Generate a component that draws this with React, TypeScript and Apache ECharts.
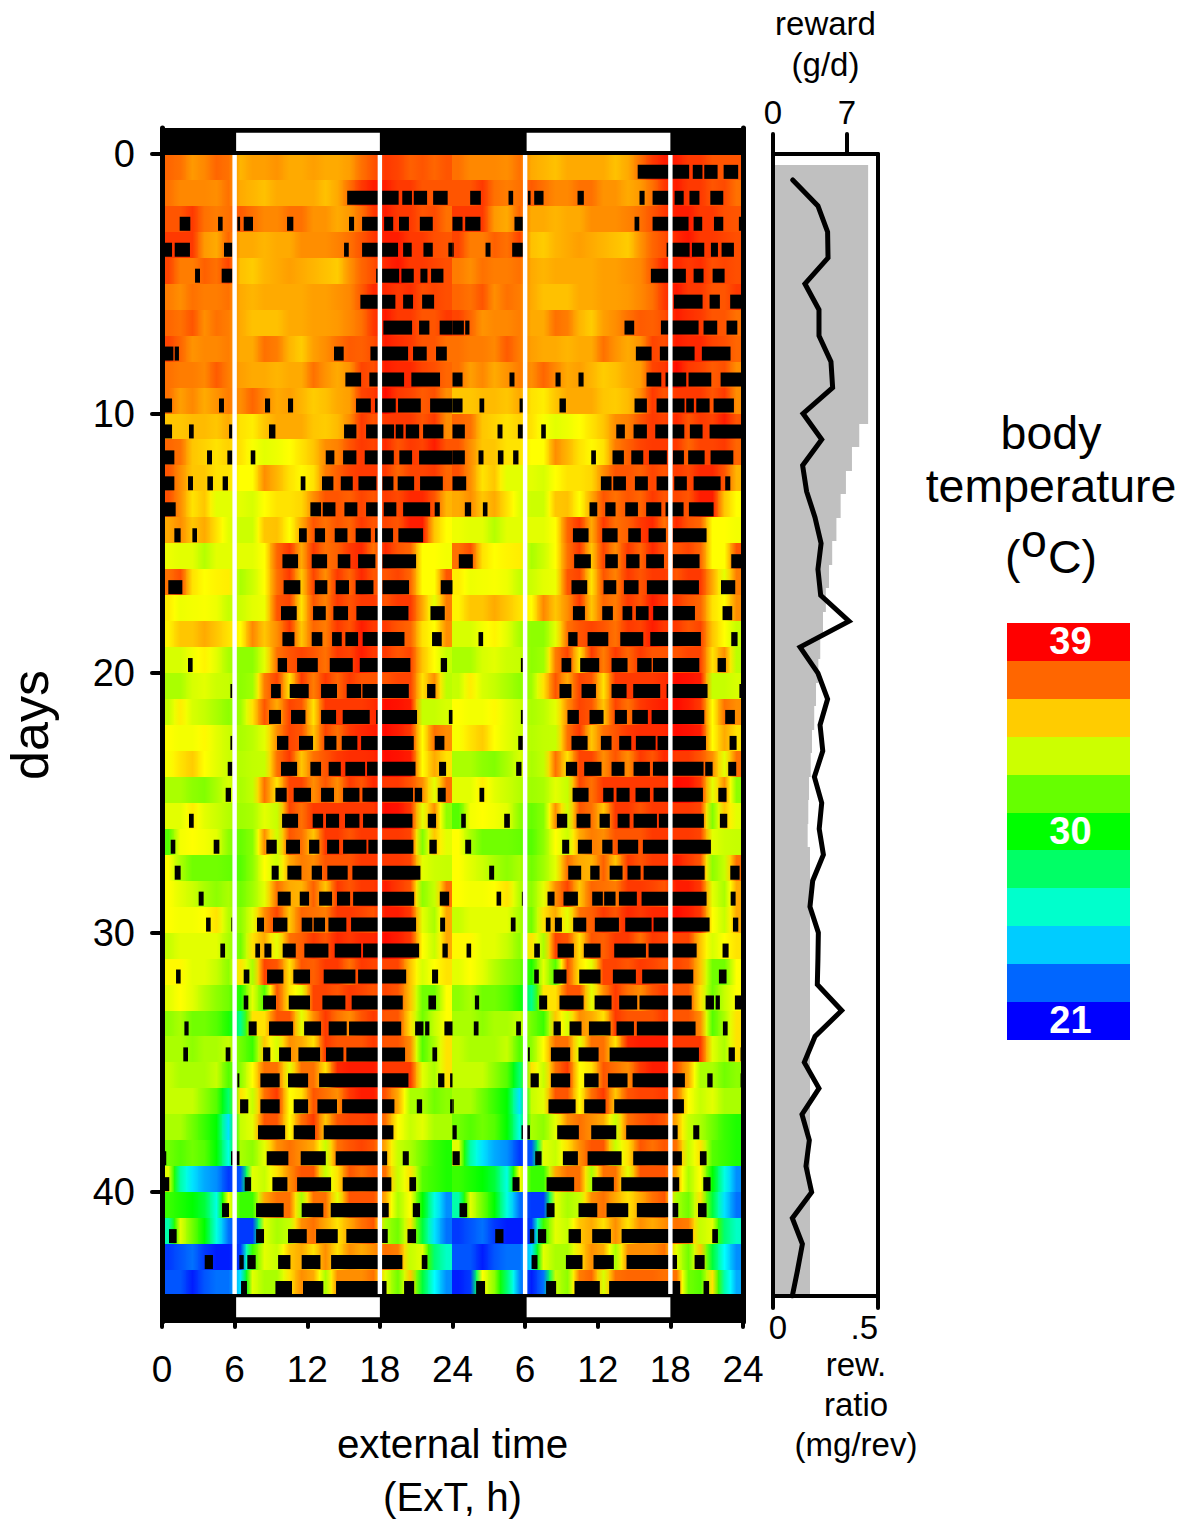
import React, { useEffect, useRef } from "react";
import * as echarts from "echarts";

const FONT = "'Liberation Sans', Arial, sans-serif";

// hourly body temperature (deg C), one list per day, hour 0..23
const tempByDay: number[][] = [
  [37.2,37,36.3,36.6,37.2,37,35.8,36.2,36.2,36.4,36,36,36.2,36,36,36.2,37,37.5,38,37.8,37.3,37.5,37.2,37.5],
  [37,36.6,36.6,36.6,36.5,37,36,35.8,35.6,36,36,36,36,35.6,36,37,38,38.5,38.5,38,38,37.5,37.5,37.5],
  [37.5,37.5,38,37,36.8,37,37.4,37,36.6,36.6,37,37,36.4,36.4,36,36.3,37,38,38.5,38,38,37.5,37.7,37],
  [38,38,38,36.3,36,37.2,36,36,35.8,36,36,36.5,36.5,36.5,36.7,37,37.5,38,38.5,38.5,38,38,37.6,37.5],
  [37.8,36.8,36.8,37.3,37,37.8,35.6,35.4,35.8,36,36.2,36,35.8,35.6,35.4,36.4,37.2,37.6,38.3,38.6,38,38,37.8,37.6],
  [36.8,36.5,37,36.8,36.8,37,36,35.8,36,36,36,36,36.2,36.2,36.4,36.6,37.4,38.3,38.3,38,38.2,37.6,37.8,37.6],
  [37.2,37,37.5,36.5,37,36.8,36,35.6,35.6,35.6,36,36,36.2,36.2,36.3,36.6,37,38,38.6,38,38,37.5,37.5,38],
  [37.8,37.2,36.4,36.6,36.6,36.8,36,36,37,36.8,35.8,35.4,36.2,36.5,37,37.4,37.3,37.6,38.5,38.2,38,37.5,37.5,37],
  [37,36.8,36.8,36.6,37.4,36.8,36.2,36,36,35.8,36,36,37,36.4,36,36.4,37.8,37.6,38.5,38.3,38.3,37.8,37.6,37.2],
  [37,36.2,36.6,36,36.4,36.8,36.5,37.2,36.6,36,36.2,35.8,35.4,35.6,36,36.2,37.8,38,38.8,38,37.8,37.4,37.6,36.5],
  [35.5,35.5,35.7,35.7,35.5,36,35,34.8,35.5,36,36,36,35.5,35.4,35.7,36.5,38,37.5,38,38,38,37.5,38,36.5],
  [37.2,37,35.5,35.3,35,35.3,35,34.4,34,34.2,34.5,35,35.5,36.5,36.7,37.5,38,37.8,38.3,37.5,38,37.8,38.5,37.5],
  [37.5,36.5,35.5,35.5,35,35,34.5,34.5,36.5,35.8,35,34.6,35,36.8,37.3,37.8,38,38,38,37.2,37.8,37.8,38,37.2],
  [37.6,36.5,35,35.5,34,34,34,33.8,34.5,35,35,35.2,36.5,37.5,37.5,37.3,37.8,37.5,38,37.7,38.3,38.3,37.5,35.8],
  [36,36.5,35.5,36,35,34,33.6,33.6,35.5,35.6,34.5,36,37.5,37,37.5,37.2,38,37.5,37.8,37.5,38.5,38.5,35.5,34.5],
  [34.2,34,34,33.2,34,34,34,34,34.5,37.2,38,36,38,37,37.3,38,38.3,37,38.3,37.5,37.2,34.5,34.5,34.3],
  [37,37.6,35,34.5,34.7,34.8,33,33.6,34.5,37,38,35.5,37.8,36.5,38,37.2,38.3,37.5,37.5,37.8,37.2,34.5,34.5,37.5],
  [34.8,34.2,34.3,34.4,34.2,33.5,33.6,34,34.2,37.5,37.8,35,37.5,36.7,38,37.5,38,38,37.5,38,38,36,34,36.8],
  [34.7,35.5,35.5,36,35.5,35,34.5,36.6,35.5,36.5,38,35.5,37.2,36.8,38,37.5,38.5,38,38,37.5,37.2,35,34.5,36.5],
  [33.8,33.8,34.3,34.7,34,33,32.5,32.5,34,37,37.5,37.8,37.5,37,38,37.8,38.5,38,38,37.5,37.8,35.5,34.5,33.5],
  [33,33,33.8,34,33.6,33.5,32.5,32.8,36.8,37.8,35,38,36.8,38,37.2,38,37.5,37.5,37.5,37.8,37.8,35,36.5,33.3],
  [33.5,34.8,33.8,33.5,33,32.5,32.8,35,37.5,36,37.8,37.5,35,38,38,38,38,38.2,38.8,38.7,38.5,33.5,33.5,33.8],
  [34.5,34.3,34.3,34.6,34,33.6,33,33.3,34,36.5,37.8,37.5,35.5,37.8,37,38,38.3,38.5,38.8,38.5,38,34.5,37,36.5],
  [34.4,35,35.4,34.5,34,33.6,33.2,33.4,33.5,37,38,35.5,37,37.5,38,38.2,38.2,38.3,38.8,38.7,38.5,34.5,36,35],
  [33,33,32.5,32.3,33,33.8,33,33.4,37,35,37.8,37.8,36.5,37.5,36.5,38,37.5,38.3,38,38,37.5,36.5,34,37],
  [34,34,34.8,34,33.6,33.2,32.8,33,34,33.5,37.8,37,38,38,38,38,38,38,38.8,38.7,38,34,36.5,32.5],
  [31.5,34.3,34.5,34.3,34,32.5,31.8,32.4,36.5,33.6,37.5,37,35.5,38,38,37.5,38,38,38,38,37.8,32.3,35.5,34],
  [34.5,33,32,32,32,31.8,31.5,32.5,34.5,33.6,36,36.8,36.5,37.5,37.5,37.5,38,38,38,38,37.8,34,33.6,33.5],
  [34.5,34,33.6,33,32.5,33,32,32.8,34,37,36,35.8,37.3,35.5,38,37.5,38,38,38.5,38,37.5,32.5,33.5,37],
  [34.5,34.3,34.3,34.5,35,33.2,32.5,34,36.5,37.8,35.5,37.2,37,36.8,38,38,37.8,37.5,38.5,38.5,38,34,33,36],
  [33.5,34,34,34,34,33,32,35,36,34,37,37.3,38,37.5,38.3,38,38.3,38.3,38.8,38.5,38,34.5,33.5,36],
  [34.6,34.6,34,34,33.5,32.5,35,33,37.8,37.5,35,37.5,37.3,38,38,37,38,37.8,37.8,37.8,35.5,33.8,34.5,35],
  [34,34.5,34,33.2,32.5,32,30.5,34,31.5,37.5,35,34,37.8,37.8,37.5,38,37.8,37.5,37.8,37.5,35.5,32,32,34.5],
  [32.5,33,32,32,31.5,30.5,27.5,35,35,37.5,37.5,34,36.5,38,37,36.5,37.5,38,37.5,37.5,35,32,33.5,34.5],
  [33,33,32.5,33,33,33.5,32,31,35.5,33.8,36.5,36,35,38,37.5,37.5,37.5,38,37.5,37.5,36.5,31.5,33,35],
  [33.5,33,33,33,33.5,31.5,32.5,34.5,37,37,34,37,37,35,38.3,38.5,38.5,38.5,38,38,38,34,33,35],
  [33.5,33.5,33.5,32.5,31.5,28,35,33.5,37,38,34.5,35,37.5,37,36.5,38,38.5,38.5,37.5,36,33,33,32,32.5],
  [33,33,32,31,30,25,33.5,34,37.5,37.5,34.5,37,38,35.5,37.5,37.8,37.8,38,37,34.5,33.5,34,33,33],
  [32,31.5,32,31.5,30,26,33,32.5,34,36.5,37,36.5,36,33.5,37,37.5,37.8,37.5,36,33.5,33,32,31,30.5],
  [34,27,25,24,23.5,22,22.5,34,33.5,35,36.5,37.5,37.5,33.5,35,37.5,37,37.5,37,33.5,35,31.5,31,30.5],
  [31,30.5,30,29,26,34.5,31,31,36,37,37,33,37,37,34,37.5,37.5,37.5,36,33,34.5,30,26,23.5],
  [27,34,32,30,26,23,22,22,34,33,33.5,36.5,37,36,35,36,37,37.5,33,32,35,29,25,23],
  [22,22.5,23,22,21.5,21.5,22,31,34,33.5,35.5,36,35,36.5,35,36.5,36,36.5,37,36.8,33.5,34,28,26.5],
  [22.5,22.5,21.5,22.5,23,23,25,34,33,33,35,36.5,36,33,36.5,36.5,36.5,37,34,32,35.5,29,25.5,23.5],
  [21.5,22,34.5,32.5,28,23.5,21.5,23,33.5,32.5,36.8,37.2,33.8,37,37.2,37.2,37.2,37,37,32,31.5,35,27,24],
];

// feeding bouts per day: [start hour, end hour]
const barsByDay: number[][][] = [
  [],
  [[15.3,19.55],[19.85,20.65],[20.8,21.9],[22.4,23.6]],
  [[1.46,2.34],[4.63,5.01],[6.23,6.45],[6.75,7.52],[10.33,10.85],[15.45,15.87],[16.53,17.9],[18.35,19.1],[19.58,20.4],[21.3,22.37]],
  [[0,0.83],[1.05,2.31],[5.12,5.81],[15.04,15.43],[16.53,19.5],[19.92,20.63],[21.6,22.37],[23.66,24]],
  [[0,0.1],[2.73,3.14],[4.93,5.81],[17.69,19.59],[19.78,20.8],[21.35,21.93],[22.23,23.25]],
  [[16.39,19.28],[19.92,20.74],[21.49,22.48]],
  [[18.29,20.66],[21.24,22.09],[22.94,24]],
  [[0,0.94],[1.05,1.4],[14.21,15.01],[17.22,20.33],[20.74,21.87],[22.64,23.53]],
  [[15.15,16.45],[17.13,20.0],[20.6,22.97]],
  [[0,0.83],[4.71,5.12],[8.51,8.93],[10.41,10.83],[16.03,17.25],[17.6,19.31],[19.5,21.38],[22.15,24]],
  [[0,0.83],[2.23,2.62],[5.54,5.81],[8.84,9.37],[15.04,16.06],[16.86,19.17],[19.31,19.94],[20.14,21.24],[21.57,23.25]],
  [[0,1.02],[3.72,4.13],[5.4,5.81],[7.33,7.71],[13.53,14.24],[14.96,16.06],[16.75,19.15],[19.61,20.66],[21.24,24]],
  [[0,1.02],[2.15,2.56],[3.75,4.21],[5.01,5.45],[11.46,11.85],[13.22,14.16],[14.77,15.76],[16.23,17.71],[18.21,19.12],[19.47,20.83],[21.32,23.2]],
  [[0,1.13],[12.26,13.14],[13.28,14.33],[15.07,16.14],[16.86,17.95],[18.32,19.36],[19.92,22.15],[22.53,22.95]],
  [[1.02,1.54],[2.51,2.89],[11.32,11.96],[12.62,13.47],[14.27,15.32],[16.0,17.25],[17.6,19.09],[19.53,21.57]],
  [[9.95,11.24],[12.37,13.64],[14.52,15.56],[16.2,17.63],[18.21,20.99]],
  [[0.52,1.68],[10.05,11.43],[12.62,13.66],[14.35,15.45],[16.0,17.47],[18.21,20.41],[23.03,24]],
  [[9.83,11.13],[12.48,13.53],[14.16,15.37],[16.06,20.36],[22.18,23.36]],
  [[9.95,10.94],[12.37,13.25],[14.05,14.85],[15.15,16.2],[16.58,20.03],[22.31,23.11]],
  [[2.15,2.53],[9.56,10.33],[11.16,12.87],[13.86,15.76],[16.34,20.52],[23.03,23.55]],
  [[5.65,5.81],[9.01,9.81],[10.55,12.12],[13.14,14.46],[15.26,16.45],[16.56,20.39],[21.9,22.59]],
  [[8.84,9.83],[10.66,11.85],[13.14,14.38],[14.93,17.16],[17.69,21.07],[23.7,24]],
  [[5.65,5.81],[9.5,10.44],[11.32,12.48],[13.41,14.41],[14.85,16.14],[16.45,20.8],[22.53,23.33]],
  [[5.43,5.81],[9.83,11.16],[12.26,13.14],[13.77,14.77],[15.15,16.78],[16.94,20.94],[22.89,23.47]],
  [[5.26,5.7],[9.37,10.3],[10.88,12.31],[13.14,14.21],[14.96,16.31],[16.56,20.74],[20.88,21.49],[22.78,23.44]],
  [[2.23,2.62],[9.92,11.24],[12.45,13.31],[13.55,14.63],[15.12,16.31],[16.61,20.69],[21.96,22.64]],
  [[0.72,1.1],[4.27,4.74],[8.62,9.48],[10.25,11.4],[12.15,13.0],[13.64,14.63],[14.96,16.89],[17.05,20.77],[22.09,22.7]],
  [[1.05,1.54],[9.06,9.64],[10.36,11.52],[12.37,13.22],[13.66,15.34],[15.73,21.35]],
  [[3.03,3.44],[9.56,10.63],[11.38,12.15],[12.98,14.05],[14.46,15.54],[15.79,20.83],[22.95,23.72]],
  [[3.64,4.02],[5.73,5.81],[7.85,8.43],[9.17,10.36],[11.54,12.42],[12.53,13.47],[13.75,15.23],[15.62,20.99],[22.98,23.39]],
  [[4.82,5.21],[7.71,8.1],[8.46,9.04],[9.97,11.05],[11.76,13.75],[14.27,16.45],[16.61,21.24],[23.17,23.61]],
  [[1.16,1.54],[6.75,7.22],[8.68,10.03],[10.85,12.23],[13.36,15.98],[16.2,20.17],[22.31,22.81]],
  [[6.75,7.13],[8.35,9.42],[10.47,12.23],[13.25,15.15],[15.67,19.89],[22.01,22.64]],
  [[1.85,2.2],[7.16,7.82],[8.84,10.83],[11.74,13.14],[13.77,15.26],[15.45,19.76],[20.91,21.6],[21.74,22.09],[23.33,24]],
  [[1.76,2.15],[5.26,5.65],[8.35,8.95],[9.67,10.66],[11.27,13.06],[13.55,14.99],[15.23,20.08],[22.34,22.73]],
  [[6.23,6.39],[8.13,9.72],[10.41,12.07],[12.98,20.36],[22.81,23.33],[23.8,24]],
  [[6.45,7.13],[8.13,9.72],[10.88,12.07],[12.84,14.46],[14.88,19.2],[21.05,21.49],[23.8,24]],
  [[0,0.1],[7.93,10.17],[10.88,12.64],[13.36,19.12]],
  [[0,0.35],[5.7,6.4],[8.65,10.44],[11.46,13.53],[14.35,18.6],[19.89,20.39]],
  [[0,0.6],[6.83,7.36],[9.12,10.36],[11.16,13.97],[14.93,18.95],[20.44,20.99]],
  [[4.96,5.54],[7.77,10.05],[11.54,13.33],[13.94,18.73],[20.72,21.32]],
  [[0.58,1.21],[7.77,8.43],[10.41,11.96],[12.73,14.52],[15.23,18.65],[20.28,20.99]],
  [[3.53,4.21],[6.39,6.75],[7.05,7.74],[9.59,10.61],[11.54,13.09],[13.97,19.86],[21.46,21.93]],
  [[6.53,7.02],[9.37,10.74],[11.65,13.33],[14.38,18.55],[20.0,20.83]],
  [[1.95,2.69],[7.73,8.56],[10.08,12.17],[12.94,18.81],[20.74,21.2]],
];

// reward ratio (mg/rev), days 1..44
const rewardRatio = [
  .094,.214,.26,.262,.152,.219,.219,.276,.284,.143,.232,.141,.16,.2,.229,.214,.227,.362,.129,.214,.26,.224,
  .237,.197,.232,.22,.24,.189,.176,.216,.214,.211,.327,.2,.149,.219,.138,.173,.157,.184,.092,.14,.117,.092,
];

// reward (g/d), 48 equal steps from the top of the panel
const rewardGrams = [
  9,9,9,9,9,9,9,9,9,9,9,8.16,7.47,6.9,6.4,6,5.6,5.3,5,4.73,4.47,4.29,4.07,3.9,3.69,3.57,3.41,3.34,3.28,
  3.5,3.5,3.5,3.5,3.5,3.5,3.5,3.5,3.5,3.5,3.5,3.5,3.5,3.5,3.5,3.5,3.5,3.5,3.5,
];

const xTickValues = [0, 6, 12, 18, 24, 30, 36, 42, 48];
const xTickLabels = ["0", "6", "12", "18", "24", "6", "12", "18", "24"];
const dayTicks = [0, 10, 20, 30, 40];
const lightPeriods = [[6, 18], [30, 42]];
const lightEdges = [6, 18, 30, 42];
const legendColors = ["#FF0000","#FF6600","#FFCC00","#CCFF00","#66FF00","#00FF00","#00FF66","#00FFCC","#00CCFF","#0066FF","#0000FF"];
const legendLabels = ["39","","","","","30","","","","","21"];

const NODES: [number, number[]][] = [
  [21, [0, 0, 255]], [25.5, [0, 255, 255]], [30, [0, 255, 0]], [34.5, [255, 255, 0]], [39, [255, 0, 0]],
];
function colorOf(t: number): string {
  const v = Math.max(21, Math.min(39, t));
  for (let i = 0; i < NODES.length - 1; i++) {
    const [a, ca] = NODES[i];
    const [b, cb] = NODES[i + 1];
    if (v <= b) {
      const f = (v - a) / (b - a);
      const c = ca.map((x, k) => Math.round(x + (cb[k] - x) * f));
      return `rgb(${c[0]},${c[1]},${c[2]})`;
    }
  }
  return "rgb(255,0,0)";
}

const heatData: number[][] = [];
for (let row = 0; row < 44; row++) {
  [row, row + 1].forEach((day, half) => {
    const t = tempByDay[day];
    t.forEach((v, h) => {
      const prev = h > 0 ? t[h - 1] : v;
      const next = h < 23 ? t[h + 1] : v;
      heatData.push([half * 24 + h, row, (prev + v) / 2, v, (v + next) / 2]);
    });
  });
}

// each bout is drawn twice: on its own row (left half) and one row up (right half)
const barRows: number[][] = [];
barsByDay.forEach((bars, day) => {
  bars.forEach(([s, e]) => {
    barRows.push([s, e, day]);
    if (day >= 1) barRows.push([s + 24, e + 24, day - 1]);
  });
});

const rewardData = rewardGrams.map((v, i) => [i, v]);
const ratioData = rewardRatio.map((v, i) => [v, i + 1]);

const axisBase = { splitLine: { show: false }, z: 5 };
const tickStyle = { color: "#000", width: 4, cap: "round" };
const gridBase = { outerBoundsMode: "none", containLabel: false };
const lineOf = (width: number) => ({ show: true, onZero: false, lineStyle: { color: "#000", width } });

const option: any = {
  animation: false,
  backgroundColor: "#fff",
  grid: [
    { ...gridBase, left: 162, top: 128, width: 581, height: 1194 },
    { ...gridBase, left: 773, top: 154, width: 105, height: 1142 },
    { ...gridBase, left: 1007, top: 623, width: 123, height: 417 },
  ],
  xAxis: [
    {
      ...axisBase, type: "value", gridIndex: 0, min: 0, max: 48, position: "bottom",
      axisLine: lineOf(2),
      axisTick: { show: true, length: 5, customValues: xTickValues, lineStyle: tickStyle },
      axisLabel: {
        customValues: xTickValues, margin: 29, color: "#000", fontFamily: FONT, fontSize: 37,
        formatter: (v: number) => xTickLabels[xTickValues.indexOf(v)],
      },
      name: "external time\n(ExT, h)", nameLocation: "middle", nameGap: 95,
      nameTextStyle: { color: "#000", fontFamily: FONT, fontSize: 40.4, lineHeight: 53 },
    },
    {
      ...axisBase, type: "value", gridIndex: 1, min: 0, max: 105 / 10.57, position: "top",
      axisLine: lineOf(4),
      axisTick: { show: true, length: 20, customValues: [0, 7], lineStyle: tickStyle },
      axisLabel: { customValues: [0, 7], margin: 25, color: "#000", fontFamily: FONT, fontSize: 33 },
      name: "reward\n(g/d)", nameLocation: "middle", nameGap: 69,
      nameTextStyle: { color: "#000", fontFamily: FONT, fontSize: 33, lineHeight: 41 },
    },
    {
      ...axisBase, type: "value", gridIndex: 1, min: 0, max: 0.5, position: "bottom",
      axisLine: lineOf(4),
      axisTick: { show: true, length: 12, customValues: [0, 0.5], lineStyle: tickStyle },
      axisLabel: {
        customValues: [0, 0.5], margin: 15, color: "#000", fontFamily: FONT, fontSize: 33,
        alignMinLabel: "center", alignMaxLabel: "right", padding: [0, 0, 0, 10],
        formatter: (v: number) => (v === 0 ? "0" : ".5"),
      },
    },
    { type: "value", gridIndex: 2, min: 0, max: 1, show: false },
  ],
  yAxis: [
    {
      ...axisBase, type: "value", gridIndex: 0, min: -1, max: 45, inverse: true, position: "left",
      axisLine: lineOf(5),
      axisTick: { show: true, length: 10, customValues: dayTicks, lineStyle: tickStyle },
      axisLabel: { customValues: dayTicks, margin: 27, color: "#000", fontFamily: FONT, fontSize: 38 },
      name: "days", nameLocation: "middle", nameGap: 106, nameRotate: 90,
      nameTextStyle: { color: "#000", fontFamily: FONT, fontSize: 52 },
    },
    {
      ...axisBase, type: "value", gridIndex: 0, min: -1, max: 45, inverse: true, position: "right",
      axisLine: lineOf(5), axisTick: { show: false }, axisLabel: { show: false },
    },
    {
      ...axisBase, type: "value", gridIndex: 1, min: 0, max: 44, inverse: true, position: "left",
      axisLine: lineOf(4), axisTick: { show: false }, axisLabel: { show: false },
    },
    {
      ...axisBase, type: "value", gridIndex: 1, min: 0, max: 44, inverse: true, position: "right",
      axisLine: lineOf(4), axisTick: { show: false }, axisLabel: { show: false },
    },
    { type: "value", gridIndex: 2, min: 0, max: 11, inverse: true, show: false },
  ],
  graphic: [
    { type: "text", x: 856, y: 1364, style: { text: "rew.", font: `33px ${FONT}`, fill: "#000", align: "center", verticalAlign: "middle" } },
    { type: "text", x: 856, y: 1404, style: { text: "ratio", font: `33px ${FONT}`, fill: "#000", align: "center", verticalAlign: "middle" } },
    { type: "text", x: 856, y: 1444, style: { text: "(mg/rev)", font: `33px ${FONT}`, fill: "#000", align: "center", verticalAlign: "middle" } },
    { type: "text", x: 1051, y: 433, style: { text: "body", font: `46.5px ${FONT}`, fill: "#000", align: "center", verticalAlign: "middle" } },
    { type: "text", x: 1051, y: 486, style: { text: "temperature", font: `46.5px ${FONT}`, fill: "#000", align: "center", verticalAlign: "middle" } },
    { type: "text", x: 1005, y: 557, style: { text: "(", font: `46.5px ${FONT}`, fill: "#000", align: "left", verticalAlign: "middle" } },
    { type: "text", x: 1021, y: 541, style: { text: "o", font: `46.5px ${FONT}`, fill: "#000", align: "left", verticalAlign: "middle" } },
    { type: "text", x: 1048, y: 557, style: { text: "C)", font: `46.5px ${FONT}`, fill: "#000", align: "left", verticalAlign: "middle" } },
  ],
  series: [
    {
      type: "custom", xAxisIndex: 0, yAxisIndex: 0, clip: true, data: heatData,
      renderItem: (_p: any, api: any) => {
        const x = api.value(0), r = api.value(1);
        const a = api.coord([x, r]);
        const b = api.coord([x + 1, r + 1]);
        const x0 = Math.floor(a[0]), y0 = Math.round(a[1]);
        return {
          type: "rect",
          shape: { x: x0, y: y0, width: Math.ceil(b[0]) - x0, height: Math.round(b[1]) - y0 },
          style: {
            fill: new echarts.graphic.LinearGradient(0, 0, 1, 0, [
              { offset: 0, color: colorOf(api.value(2)) },
              { offset: 0.5, color: colorOf(api.value(3)) },
              { offset: 1, color: colorOf(api.value(4)) },
            ]),
          },
        };
      },
    },
    {
      type: "custom", xAxisIndex: 0, yAxisIndex: 0, clip: true, data: barRows,
      renderItem: (_p: any, api: any) => {
        const a = api.coord([api.value(0), api.value(2) + 0.42]);
        const b = api.coord([api.value(1), api.value(2) + 0.96]);
        return { type: "rect", shape: { x: a[0], y: a[1], width: b[0] - a[0], height: b[1] - a[1] }, style: { fill: "#000" } };
      },
    },
    {
      type: "custom", xAxisIndex: 0, yAxisIndex: 0, data: lightEdges.map((v) => [v]),
      renderItem: (_p: any, api: any) => {
        const a = api.coord([api.value(0), 0]);
        const b = api.coord([api.value(0), 44]);
        return { type: "rect", shape: { x: a[0] - 2.2, y: a[1], width: 4.4, height: b[1] - a[1] }, style: { fill: "#fff" } };
      },
    },
    {
      type: "custom", xAxisIndex: 0, yAxisIndex: 0, data: [[-1, 0.04], [43.92, 45]],
      renderItem: (_p: any, api: any) => {
        const a = api.coord([0, api.value(0)]);
        const b = api.coord([48, api.value(1)]);
        return { type: "rect", shape: { x: a[0], y: a[1], width: b[0] - a[0], height: b[1] - a[1] }, style: { fill: "#000" } };
      },
    },
    {
      type: "custom", xAxisIndex: 0, yAxisIndex: 0,
      data: lightPeriods.flatMap(([s, e]) => [[s, e, -0.82, -0.11], [s, e, 44.05, 44.82]]),
      renderItem: (_p: any, api: any) => {
        const a = api.coord([api.value(0), api.value(2)]);
        const b = api.coord([api.value(1), api.value(3)]);
        return { type: "rect", shape: { x: a[0] + 1.5, y: a[1], width: b[0] - a[0] - 1.5, height: b[1] - a[1] }, style: { fill: "#fff" } };
      },
    },
    {
      type: "custom", xAxisIndex: 1, yAxisIndex: 2, data: rewardData,
      renderItem: (_p: any, api: any) => {
        const i = api.value(0);
        const step = 43.52 / 48;
        const a = api.coord([0, 0.42 + i * step]);
        const b = api.coord([api.value(1), 0.42 + (i + 1) * step]);
        const y0 = Math.round(a[1]);
        return { type: "rect", shape: { x: a[0], y: y0, width: b[0] - a[0], height: Math.round(b[1]) - y0 }, style: { fill: "#C0C0C0" } };
      },
    },
    {
      type: "line", xAxisIndex: 2, yAxisIndex: 2, data: ratioData, showSymbol: false, symbol: "none",
      lineStyle: { color: "#000", width: 5, join: "miter", cap: "round" }, z: 3,
    },
    {
      type: "custom", xAxisIndex: 3, yAxisIndex: 4, data: legendColors.map((_c, i) => [i]),
      renderItem: (_p: any, api: any) => {
        const i = api.value(0);
        const a = api.coord([0, i]);
        const b = api.coord([1, i + 1]);
        const y0 = Math.round(a[1]);
        const children: any[] = [
          { type: "rect", shape: { x: a[0], y: y0, width: b[0] - a[0], height: Math.round(b[1]) - y0 }, style: { fill: legendColors[i] } },
        ];
        if (legendLabels[i]) {
          children.push({
            type: "text",
            style: {
              text: legendLabels[i], x: (a[0] + b[0]) / 2 + 2, y: (a[1] + b[1]) / 2 - 1,
              align: "center", verticalAlign: "middle", fill: "#fff", font: `bold 38px ${FONT}`,
            },
          });
        }
        return { type: "group", children };
      },
    },
  ],
};

export default function App() {
  const ref = useRef<HTMLDivElement>(null);
  useEffect(() => {
    const chart = echarts.init(ref.current!, undefined, { renderer: "svg" });
    chart.setOption(option);
    return () => chart.dispose();
  }, []);
  return <div ref={ref} style={{ position: "absolute", left: 0, top: 0, width: 1186, height: 1520 }} />;
}
